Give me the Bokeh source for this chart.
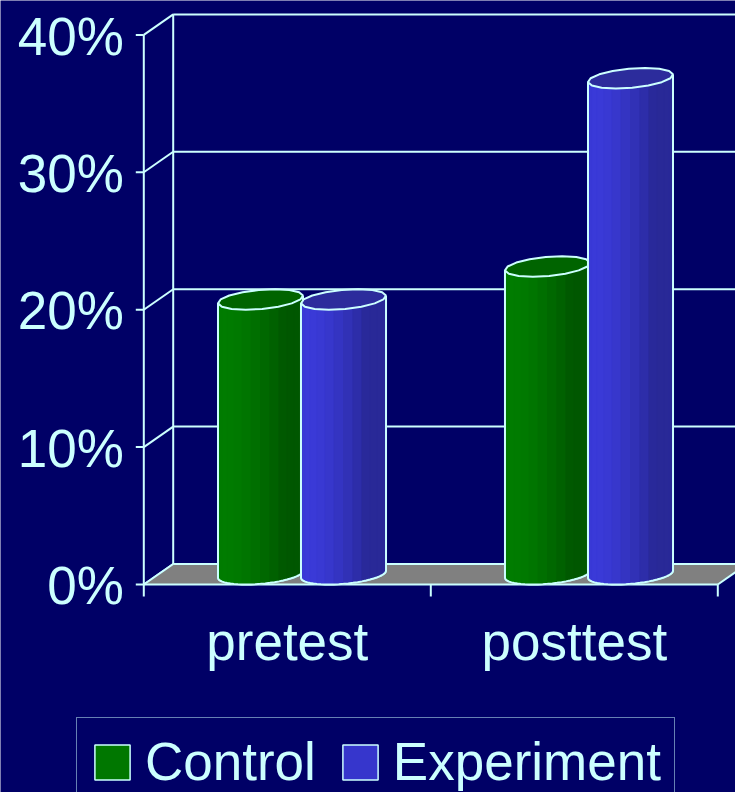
import numpy as np
from bokeh.plotting import figure
from bokeh.models import Legend, LegendItem, Range1d
from bokeh.core.properties import value
from bokeh.embed import file_html
from bokeh.resources import INLINE

# ---------------- data ----------------
categories = ["pretest", "posttest"]
series_names = ["Control", "Experiment"]
control = [20.0, 22.4]
experiment = [20.0, 36.1]
y_ticks = [0, 10, 20, 30, 40]
y_tick_labels = ["0%", "10%", "20%", "30%", "40%"]

# ---------------- style ----------------
BG = "#000066"
FG = "#CCFFFF"
FLOOR = "#808080"
body_rgb = {"Control": (0, 124, 0), "Experiment": (58, 58, 216)}
top_col = {"Control": "#006400", "Experiment": "#2C2C9C"}
legend_col = {"Control": "#007700", "Experiment": "#3636CC"}
FONT = "Liberation Sans"
FS = "53px"

W, H = 735, 792
PXX, PXY = 287.0, 13.74          # pixels per category / per percent
OX, OY = 143.3, 584.0            # canvas position of the front origin
DX, DY = 29.4 / PXX, 20.5 / PXY  # 3-D depth offset in data units
R = 39.9 / PXX                   # cylinder radius (x)
S, V = DX / 2, DY / 2            # oblique shear / vertical half-depth
OFF = 41.5 / PXX                 # series offset from category centre
NCAT = len(categories)

p = figure(width=W, height=H,
           x_range=Range1d(-OX / PXX, (W - OX) / PXX),
           y_range=Range1d(-(H - OY) / PXY, OY / PXY),
           x_axis_type=None, y_axis_type=None,
           toolbar_location=None, output_backend="svg",
           min_border=0, background_fill_color=BG, border_fill_color=BG,
           outline_line_color=None)

LW = 2

# back wall grid lines
top_x = NCAT + DX + 0.2
p.segment(x0=[DX] * len(y_ticks), y0=[t + DY for t in y_ticks],
          x1=[top_x] * len(y_ticks), y1=[t + DY for t in y_ticks],
          line_color=FG, line_width=LW)
# back wall vertical edge
p.segment(x0=[DX], y0=[DY], x1=[DX], y1=[y_ticks[-1] + DY], line_color=FG, line_width=LW)
# side wall diagonals
p.segment(x0=[0] * len(y_ticks), y0=y_ticks, x1=[DX] * len(y_ticks),
          y1=[t + DY for t in y_ticks], line_color=FG, line_width=LW)
# floor
p.patch(x=[0, NCAT, NCAT + DX, DX], y=[0, 0, DY, DY], fill_color=FLOOR,
        line_color=None)
p.segment(x0=[0, NCAT, DX], y0=[0, 0, DY], x1=[NCAT, NCAT + DX, NCAT + DX + 0.2],
          y1=[0, DY, DY], line_color=FG, line_width=LW)
p.segment(x0=[0], y0=[0], x1=[DX], y1=[DY], line_color=FG, line_width=LW)

# front value axis
p.segment(x0=[0], y0=[0], x1=[0], y1=[y_ticks[-1]], line_color=FG, line_width=LW)
p.segment(x0=[-8 / PXX] * len(y_ticks), y0=y_ticks, x1=[0] * len(y_ticks), y1=y_ticks,
          line_color=FG, line_width=LW)
p.text(x=[-20 / PXX] * len(y_ticks), y=[t - 1.2 / PXY for t in y_ticks], text=y_tick_labels,
       text_font=value(FONT), text_font_size=value(FS), text_color=FG,
       text_align="right", text_baseline="middle")

# category axis ticks and labels
cat_edges = list(range(NCAT + 1))
p.segment(x0=cat_edges, y0=[0] * len(cat_edges), x1=cat_edges,
          y1=[-12 / PXY] * len(cat_edges), line_color=FG, line_width=LW)
p.text(x=[i + 0.5 for i in range(NCAT)], y=[-57 / PXY] * NCAT, text=categories,
       text_font=value(FONT), text_font_size=value(FS), text_color=FG,
       text_align="center", text_baseline="alphabetic")

# ---------------- cylinders ----------------
t_r = np.arctan2(S, R)
t_l = t_r + np.pi


def ex(cx, t):
    return cx + R * np.cos(t) + S * np.sin(t)


def shade(rgb, t):
    f = 0.70 + 0.30 * max(0.0, np.cos(t - np.radians(235)))
    return "#%02x%02x%02x" % tuple(int(round(c * f)) for c in rgb)


legend_items = []
for j, (name, vals) in enumerate(zip(series_names, [control, experiment])):
    sil_xs, sil_ys = [], []
    st_xs, st_ys, st_c = [], [], []
    top_xs, top_ys = [], []
    out_xs, out_ys = [], []
    for i, v in enumerate(vals):
        cx = i + 0.5 + DX / 2 + (-OFF if j == 0 else OFF)
        base = DY / 2
        top = v + DY / 2
        arc = np.linspace(t_l, t_l + np.pi, 29)
        bx, by = ex(cx, arc), base + V * np.sin(arc)
        tx, ty = ex(cx, arc), top + V * np.sin(arc)
        sil_xs.append(list(bx) + list(tx[::-1]))
        sil_ys.append(list(by) + list(ty[::-1]))
        # stripes
        ts = np.linspace(t_l, t_l + np.pi, 15)
        for a, b in zip(ts[:-1], ts[1:]):
            st_xs.append([ex(cx, a), ex(cx, b), ex(cx, b), ex(cx, a)])
            st_ys.append([base + V * np.sin(a), base + V * np.sin(b),
                          top + V * np.sin(b), top + V * np.sin(a)])
            st_c.append(shade(body_rgb[name], (a + b) / 2))
        # top ellipse
        full = np.linspace(0, 2 * np.pi, 17)[:-1]
        top_xs.append(list(ex(cx, full)))
        top_ys.append(list(top + V * np.sin(full)))
        # outline: left side, bottom arc, right side
        out_xs.append([ex(cx, t_l)] + list(bx) + [ex(cx, t_l + np.pi)])
        out_ys.append([top + V * np.sin(t_l)] + list(by) + [top + V * np.sin(t_l + np.pi)])
    sil = p.patches(xs=sil_xs, ys=sil_ys, fill_color=legend_col[name],
                    line_color=FG, line_width=1.5)
    p.patches(xs=st_xs, ys=st_ys, fill_color=st_c, line_color=st_c, line_width=1)
    p.patches(xs=top_xs, ys=top_ys, fill_color=top_col[name], line_color=FG, line_width=LW)
    p.multi_line(xs=out_xs, ys=out_ys, line_color=FG, line_width=LW)
    legend_items.append(LegendItem(label=name, renderers=[sil]))

legend = Legend(items=legend_items, orientation="horizontal", location=(76, -14),
                label_text_font=FONT, label_text_font_size=FS, label_text_color=FG,
                background_fill_color=BG, background_fill_alpha=1.0,
                border_line_color=FG, border_line_width=1.5,
                padding=13, spacing=22, label_standoff=11, margin=0,
                glyph_width=44, glyph_height=44)
p.add_layout(legend)

open("out.html", "w").write(file_html(p, INLINE))
